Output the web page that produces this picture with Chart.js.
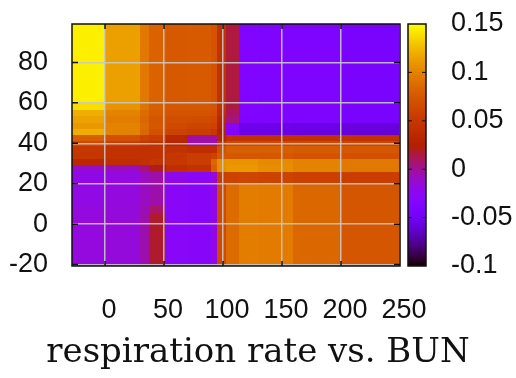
<!DOCTYPE html>
<html><head><meta charset="utf-8">
<script src="https://cdn.jsdelivr.net/npm/chart.js@4"></script>
<style>html,body{margin:0;padding:0;background:#fff;overflow:hidden}</style>
</head><body>
<canvas id="c" width="516" height="378"></canvas>
<script>
// ---- data ----
const xEdges = [-28, 0, 30, 38, 52, 70, 90, 95, 103, 114, 130, 160, 200, 250];
// rows listed top to bottom; row j spans yEdges[j] .. yEdges[j+1]
const yEdges = [99, 60, 56, 53, 50, 47, 44, 41, 38.5, 35, 32, 29, 25.6, 20, 9, 5, -20.7];
const zRows = [
  [0.145, 0.114, 0.095, 0.082, 0.076, 0.077, 0.072, 0.045, 0.015, -0.037, -0.038, -0.039, -0.043],
  [0.138, 0.108, 0.092, 0.080, 0.075, 0.075, 0.072, 0.045, 0.015, -0.037, -0.038, -0.039, -0.043],
  [0.120, 0.100, 0.088, 0.078, 0.072, 0.072, 0.070, 0.040, 0.010, -0.037, -0.038, -0.039, -0.043],
  [0.115, 0.097, 0.085, 0.074, 0.068, 0.067, 0.065, 0.035, 0.005, -0.038, -0.039, -0.040, -0.044],
  [0.110, 0.100, 0.088, 0.075, 0.065, 0.062, 0.060, 0.030, -0.030, -0.053, -0.054, -0.055, -0.058],
  [0.120, 0.100, 0.085, 0.070, 0.060, 0.055, 0.050, 0.025, -0.035, -0.055, -0.056, -0.057, -0.060],
  [0.080, 0.070, 0.060, 0.055, 0.035, -0.003, -0.003, 0.030, 0.045, 0.045, 0.045, 0.045, 0.045],
  [0.065, 0.055, 0.050, 0.045, 0.030, -0.005, -0.005, 0.050, 0.065, 0.065, 0.065, 0.065, 0.062],
  [0.050, 0.045, 0.045, 0.045, 0.045, 0.040, 0.040, 0.070, 0.080, 0.080, 0.080, 0.078, 0.075],
  [0.048, 0.045, 0.045, 0.045, 0.050, 0.055, 0.060, 0.075, 0.075, 0.075, 0.075, 0.072, 0.070],
  [0.035, 0.040, 0.045, 0.048, 0.050, 0.055, 0.085, 0.105, 0.108, 0.108, 0.104, 0.100, 0.095],
  [-0.012, -0.008, 0.005, 0.020, 0.040, 0.045, 0.080, 0.105, 0.110, 0.110, 0.105, 0.100, 0.095],
  [-0.020, -0.018, -0.010, -0.004, -0.022, -0.028, -0.015, 0.055, 0.060, 0.062, 0.060, 0.058, 0.055],
  [-0.019, -0.017, -0.010, -0.004, -0.027, -0.030, -0.020, 0.065, 0.088, 0.097, 0.096, 0.085, 0.074],
  [-0.017, -0.016, -0.007, 0.008, -0.028, -0.030, -0.020, 0.065, 0.088, 0.097, 0.096, 0.085, 0.074],
  [-0.017, -0.016, -0.005, 0.018, -0.028, -0.030, -0.020, 0.065, 0.088, 0.097, 0.096, 0.085, 0.074]
];
const xTicks = [0, 50, 100, 150, 200, 250];
const yTicks = [-20, 0, 20, 40, 60, 80];
const cbTicks = [-0.1, -0.05, 0, 0.05, 0.1, 0.15];
const cbTickLabels = ['-0.1', '-0.05', '0', '0.05', '0.1', '0.15'];
const xTitle = 'respiration rate vs. BUN';

// ---- helpers ----
const cbMin = cbTicks[0], cbMax = cbTicks[cbTicks.length - 1];
function palette(v) { // gnuplot rgbformulae 7,5,15
  const g = Math.min(1, Math.max(0, (v - cbMin) / (cbMax - cbMin)));
  const r = Math.sqrt(g), gg = g * g * g, b = Math.max(0, Math.sin(2 * Math.PI * g));
  return 'rgb(' + Math.round(r * 255) + ',' + Math.round(gg * 255) + ',' + Math.round(b * 255) + ')';
}
const cells = [];
for (let j = 0; j < zRows.length; j++) {
  for (let i = 0; i < zRows[j].length; i++) {
    const x0 = xEdges[i], x1 = xEdges[i + 1], y0 = yEdges[j + 1], y1 = yEdges[j];
    cells.push({x: (x0 + x1) / 2, y: (y0 + y1) / 2, x0, x1, y0, y1, v: zRows[j][i]});
  }
}

const heatmap = {
  id: 'heatmap',
  beforeDraw(chart) {
    const {ctx, chartArea: a, scales: {x, y}} = chart;
    ctx.save();
    ctx.beginPath(); ctx.rect(a.left, a.top, a.right - a.left, a.bottom - a.top); ctx.clip();
    for (const c of chart.data.datasets[0].data) {
      const l = Math.floor(x.getPixelForValue(c.x0)), r = Math.ceil(x.getPixelForValue(c.x1));
      const t = Math.floor(y.getPixelForValue(c.y1)), b = Math.ceil(y.getPixelForValue(c.y0));
      ctx.fillStyle = palette(c.v);
      ctx.fillRect(l, t, r - l, b - t);
    }
    ctx.restore();
  },
  afterDraw(chart) {
    const {ctx, chartArea: a, scales: {x, y, cb}} = chart;
    ctx.save();
    ctx.strokeStyle = '#111'; ctx.lineWidth = 1.5;
    ctx.strokeRect(a.left, a.top, a.right - a.left, a.bottom - a.top);
    ctx.beginPath();
    for (const t of x.ticks) {
      const px = x.getPixelForValue(t.value);
      if (px <= a.left + 1 || px >= a.right - 1) continue;
      ctx.moveTo(px, a.bottom); ctx.lineTo(px, a.bottom - 5);
      ctx.moveTo(px, a.top); ctx.lineTo(px, a.top + 5);
    }
    for (const t of y.ticks) {
      const py = y.getPixelForValue(t.value);
      ctx.moveTo(a.left, py); ctx.lineTo(a.left + 6, py);
      ctx.moveTo(a.right, py); ctx.lineTo(a.right - 6, py);
    }
    ctx.stroke();
    const L = cb.left + 8, R = cb.left + 26;
    const T = cb.getPixelForValue(cbMax), B = cb.getPixelForValue(cbMin);
    for (let py = Math.floor(T); py < Math.ceil(B); py++) {
      ctx.fillStyle = palette(cb.getValueForPixel(py + 0.5));
      ctx.fillRect(L, py, R - L, 1);
    }
    ctx.lineWidth = 1.5; ctx.strokeStyle = '#111';
    ctx.strokeRect(L, T, R - L, B - T);
    ctx.beginPath(); ctx.lineWidth = 1;
    for (const v of cbTicks) {
      if (v === cbMin || v === cbMax) continue;
      const py = cb.getPixelForValue(v);
      ctx.moveTo(L, py); ctx.lineTo(L + 4, py);
      ctx.moveTo(R, py); ctx.lineTo(R - 4, py);
    }
    ctx.stroke();
    ctx.restore();
  }
};

const tickFont = {family: "'Liberation Sans', Arial, sans-serif", size: 27};
const gridStyle = {color: 'rgba(200,200,200,0.9)', lineWidth: 1.5, drawTicks: false};
const noVPad = s => { s.paddingTop = 0; s.paddingBottom = 0; };
const TITLE_SIZE = 34, TITLE_PAD = 4;

new Chart(document.getElementById('c'), {
  type: 'scatter',
  data: {datasets: [{data: cells, pointRadius: 0, pointHoverRadius: 0}]},
  plugins: [heatmap],
  options: {
    responsive: false, animation: false, devicePixelRatio: 1,
    events: [],
    layout: {padding: {top: 24, left: 0, right: 0, bottom: 0}},
    plugins: {
      legend: {display: false}, tooltip: {enabled: false},
      title: {display: true, text: xTitle, position: 'bottom', color: '#111',
        font: {family: "'DejaVu Serif', serif", size: TITLE_SIZE, weight: 'normal'},
        padding: {top: 0, bottom: TITLE_PAD}}
    },
    scales: {
      x: {
        type: 'linear', position: 'bottom', min: -28, max: 250,
        afterBuildTicks: s => { s.ticks = xTicks.map(v => ({value: v})); },
        afterFit: s => { s.height = 112 - (TITLE_SIZE * 1.2 + TITLE_PAD); s.paddingLeft = 0; s.paddingRight = 0; },
        grid: gridStyle, border: {display: false},
        ticks: {font: tickFont, color: '#111', padding: 28, labelOffset: 4, maxRotation: 0, autoSkip: false}
      },
      y: {
        type: 'linear', position: 'left', min: -20.7, max: 99,
        afterBuildTicks: s => { s.ticks = yTicks.map(v => ({value: v})); },
        afterFit: s => { s.width = 72; noVPad(s); },
        grid: gridStyle, border: {display: false},
        ticks: {font: tickFont, color: '#111', padding: 24, autoSkip: false}
      },
      cb: {
        type: 'linear', position: 'right', min: cbMin, max: cbMax,
        afterBuildTicks: s => { s.ticks = cbTicks.map(v => ({value: v})); },
        afterFit: s => { s.width = 116; noVPad(s); },
        grid: {display: false, drawTicks: false}, border: {display: false},
        ticks: {font: tickFont, color: '#111', padding: 51, autoSkip: false,
          callback: (v, i) => cbTickLabels[i]}
      }
    }
  }
});
</script>
</body></html>
